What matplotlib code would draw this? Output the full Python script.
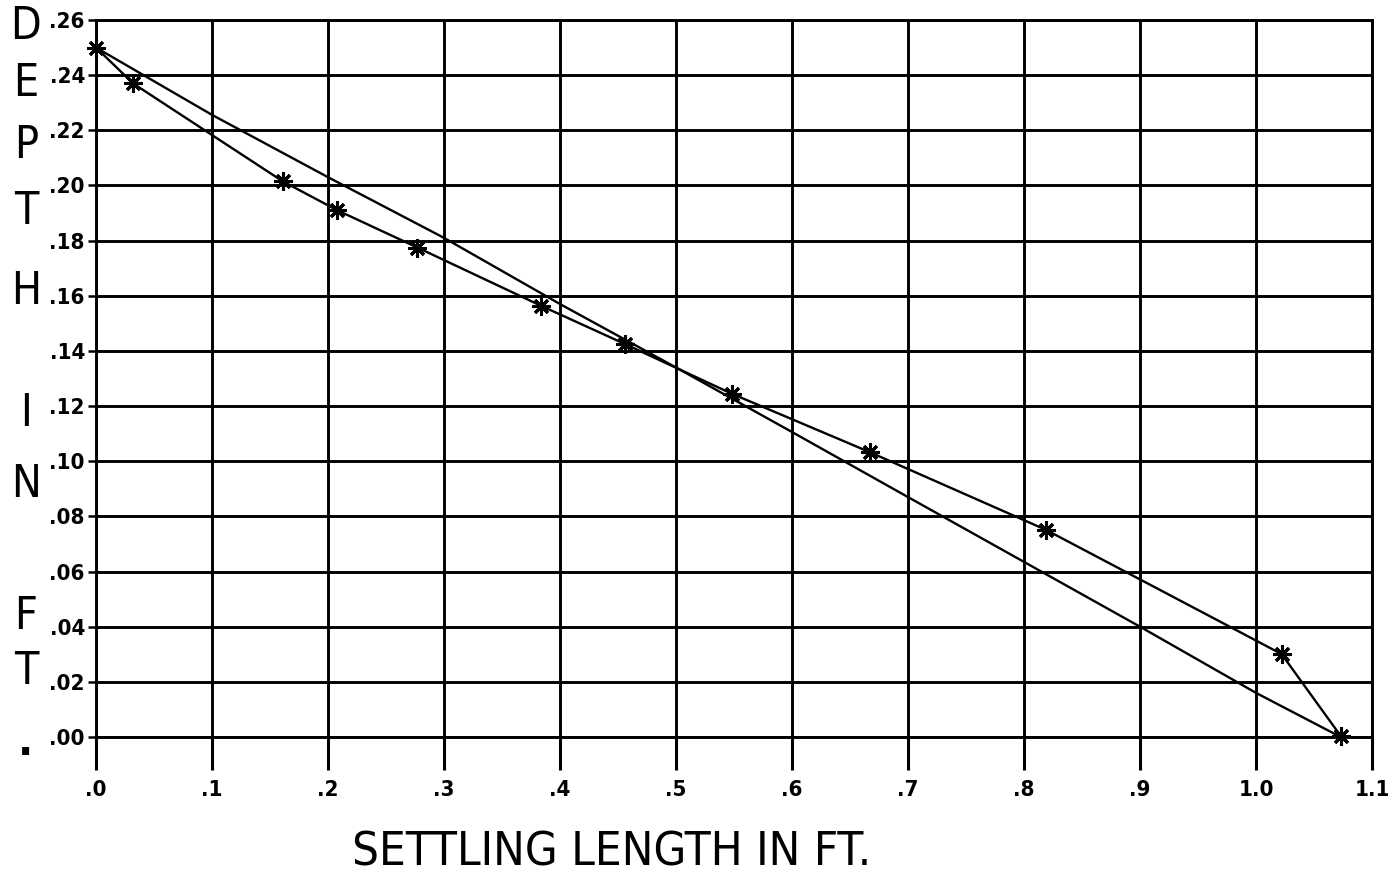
"""
Settling length vs depth - measured points and computed curve
"""

import matplotlib.pyplot as plt

# 数据
meas_x = [0.0, 0.032, 0.161, 0.208, 0.277, 0.384, 0.456, 0.548, 0.667, 0.819, 1.022, 1.073]
meas_y = [0.250, 0.237, 0.2015, 0.191, 0.1775, 0.1563, 0.1425, 0.1245, 0.1033, 0.0751, 0.0301, 0.0004]

comp_x = [0.0, 0.1, 0.2, 0.3, 0.4, 0.5, 0.6, 0.7, 0.8, 0.9, 1.0, 1.073]
comp_y = [0.250, 0.2256, 0.203, 0.181, 0.157, 0.134, 0.1106, 0.087, 0.0635, 0.040, 0.016, 0.0]

x_ticks = [0.0, 0.1, 0.2, 0.3, 0.4, 0.5, 0.6, 0.7, 0.8, 0.9, 1.0, 1.1]
x_labels = ['.0', '.1', '.2', '.3', '.4', '.5', '.6', '.7', '.8', '.9', '1.0', '1.1']
y_ticks = [0.00, 0.02, 0.04, 0.06, 0.08, 0.10, 0.12, 0.14, 0.16, 0.18, 0.20, 0.22, 0.24, 0.26]
y_labels = ['.00', '.02', '.04', '.06', '.08', '.10', '.12', '.14', '.16', '.18', '.20', '.22', '.24', '.26']

# vertical axis title, one letter per row
ylab_letters = ['D', 'E', 'P', 'T', 'H', 'I', 'N', 'F', 'T', '.']
ylab_levels = [0.2575, 0.2368, 0.2145, 0.1905, 0.1617, 0.1172, 0.0917, 0.0437, 0.0237, -0.002]

FONT = ['DejaVu Sans']

fig = plt.figure(figsize=(13.88, 8.75), dpi=100)
ax = fig.add_axes([96 / 1388, 138 / 875, 1276 / 1388, 717 / 875])

ax.plot(comp_x, comp_y, color='black', lw=1.7)
ax.plot(meas_x, meas_y, color='black', lw=1.7, marker=(8, 2, 0),
        markersize=13, markeredgewidth=2.2, clip_on=False, zorder=3)

ax.set_xlim(0, 1.1)
ax.set_ylim(0, 0.26)
ax.set_xticks(x_ticks)
ax.set_xticklabels(x_labels, family=FONT, fontsize=16, fontweight='bold', fontstretch='condensed')
ax.set_yticks(y_ticks)
ax.set_yticklabels(y_labels, family=FONT, fontsize=16, fontweight='bold', fontstretch='condensed')
ax.tick_params(axis='x', direction='out', length=24, width=2.2, pad=7)
ax.tick_params(axis='y', direction='out', length=6, width=1.8, pad=2)
ax.grid(True, color='black', lw=2.1)
for sp in ax.spines.values():
    sp.set_linewidth(2.1)

for letter, lev in zip(ylab_letters, ylab_levels):
    ax.text(-0.055, lev, letter, transform=ax.get_yaxis_transform(),
            ha='center', va='center', family=FONT, fontsize=32,
            fontstretch='condensed', fontweight='bold' if letter == '.' else 'normal')

fig.text(612 / 1388, 1 - 853 / 875, 'SETTLING LENGTH IN FT.', ha='center', va='center',
         family=FONT, fontsize=34, fontstretch='condensed')

plt.savefig('out.png', dpi=100)
